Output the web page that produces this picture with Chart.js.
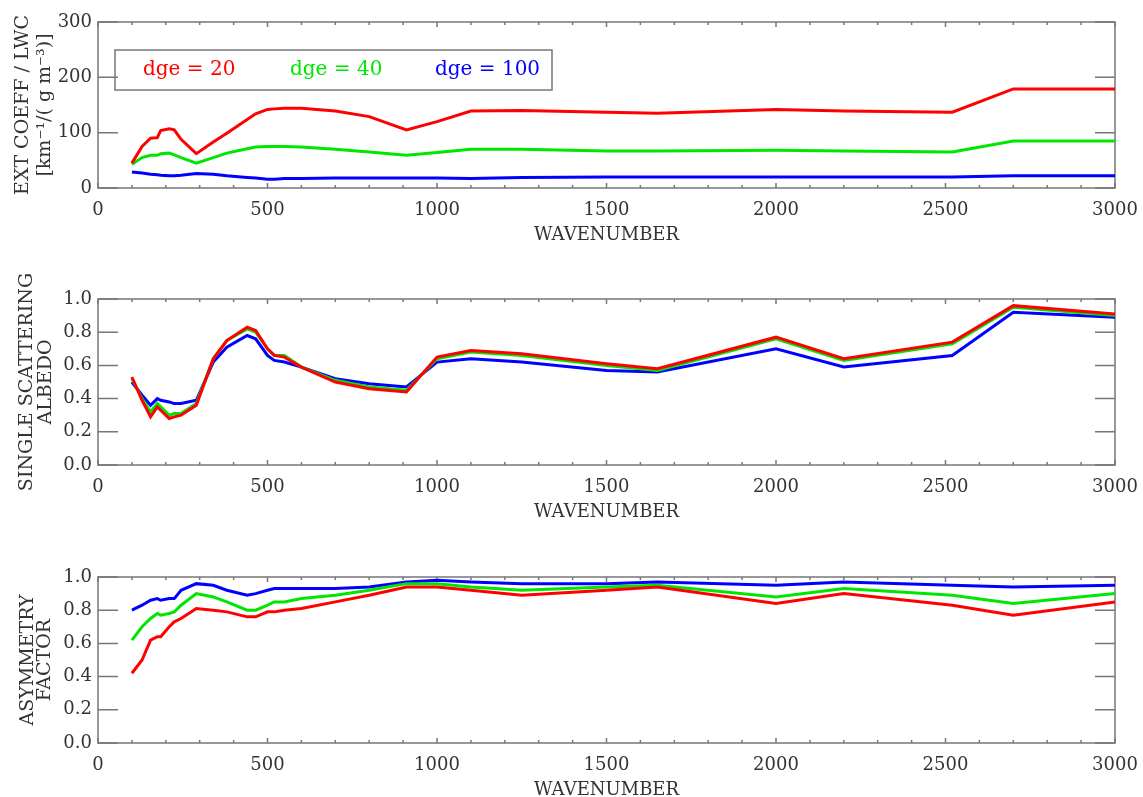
<!DOCTYPE html>
<html>
<head>
<meta charset="utf-8">
<script src="https://cdn.jsdelivr.net/npm/chart.js@4.4.1/dist/chart.umd.min.js"></script>
<style>
  html, body { margin: 0; padding: 0; background: #fff; overflow: hidden; }
  .panel { position: absolute; left: 0; width: 1143px; }
</style>
</head>
<body>
<div class="panel" style="top:0px"><canvas id="ext" width="1143" height="250"></canvas></div>
<div class="panel" style="top:262px"><canvas id="ssa" width="1143" height="265"></canvas></div>
<div class="panel" style="top:555px"><canvas id="asy" width="1143" height="250"></canvas></div>
<script>
// wavenumber grid shared by all curves
const wavenumber = [100, 130, 155, 175, 185, 210, 225, 245, 290, 340, 380, 440, 465, 500, 520, 550, 600, 700, 800, 910, 1000, 1100, 1250, 1500, 1650, 2000, 2200, 2520, 2700, 3000];

const sizes = ['dge = 20', 'dge = 40', 'dge = 100'];
const colors = ['rgb(255,0,0)', 'rgb(0,230,0)', 'rgb(0,0,255)'];

// extinction coefficient / LWC
const ext20  = [45, 75, 90, 91, 104, 107, 105, 88, 62, 83, 99, 124, 134, 142, 143, 144, 144, 139, 129, 105, 120, 139, 140, 137, 135, 142, 139, 137, 179, 179];
const ext40  = [43, 55, 59, 59, 62, 63, 60, 55, 45, 55, 63, 71, 74, 75, 75, 75, 74, 70, 65, 59, 64, 70, 70, 67, 67, 68, 67, 65, 85, 85];
const ext100 = [29, 27, 25, 24, 23, 22, 22, 23, 26, 25, 22, 19, 18, 16, 16, 17, 17, 18, 18, 18, 18, 17, 19, 20, 20, 20, 20, 20, 22, 22];

// single scattering albedo
const ssa20  = [0.53, 0.39, 0.29, 0.35, 0.33, 0.28, 0.29, 0.30, 0.36, 0.64, 0.75, 0.83, 0.81, 0.70, 0.66, 0.65, 0.59, 0.50, 0.46, 0.44, 0.65, 0.69, 0.67, 0.61, 0.58, 0.77, 0.64, 0.74, 0.96, 0.91];
const ssa40  = [0.52, 0.40, 0.32, 0.37, 0.35, 0.30, 0.31, 0.31, 0.37, 0.64, 0.75, 0.82, 0.80, 0.70, 0.66, 0.66, 0.59, 0.51, 0.47, 0.45, 0.64, 0.68, 0.66, 0.60, 0.57, 0.76, 0.63, 0.73, 0.95, 0.90];
const ssa100 = [0.50, 0.42, 0.36, 0.40, 0.39, 0.38, 0.37, 0.37, 0.39, 0.62, 0.71, 0.78, 0.76, 0.66, 0.63, 0.62, 0.59, 0.52, 0.49, 0.47, 0.62, 0.64, 0.62, 0.57, 0.56, 0.70, 0.59, 0.66, 0.92, 0.89];

// asymmetry factor
const asy20  = [0.42, 0.50, 0.62, 0.64, 0.64, 0.70, 0.73, 0.75, 0.81, 0.80, 0.79, 0.76, 0.76, 0.79, 0.79, 0.80, 0.81, 0.85, 0.89, 0.94, 0.94, 0.92, 0.89, 0.92, 0.94, 0.84, 0.90, 0.83, 0.77, 0.85];
const asy40  = [0.62, 0.70, 0.75, 0.78, 0.77, 0.78, 0.79, 0.83, 0.90, 0.88, 0.85, 0.80, 0.80, 0.83, 0.85, 0.85, 0.87, 0.89, 0.92, 0.96, 0.96, 0.94, 0.92, 0.94, 0.95, 0.88, 0.93, 0.89, 0.84, 0.90];
const asy100 = [0.80, 0.83, 0.86, 0.87, 0.86, 0.87, 0.87, 0.92, 0.96, 0.95, 0.92, 0.89, 0.90, 0.92, 0.93, 0.93, 0.93, 0.93, 0.94, 0.97, 0.98, 0.97, 0.96, 0.96, 0.97, 0.95, 0.97, 0.95, 0.94, 0.95];

Chart.defaults.font.family = 'DejaVu Serif';
Chart.defaults.font.size = 18;
Chart.defaults.color = '#333';

// IDL style box with inward ticks
const frameTicks = {
  id: 'frameTicks',
  beforeDatasetsDraw(chart) {
    const { ctx, chartArea: a, scales: { x, y } } = chart;
    ctx.save();
    ctx.strokeStyle = '#777';
    ctx.lineWidth = 1.5;
    ctx.strokeRect(a.left, a.top, a.right - a.left, a.bottom - a.top);
    ctx.beginPath();
    for (let v = x.min; v <= x.max; v += 100) {
      const px = x.getPixelForValue(v);
      const len = v % 500 === 0 ? 5 : 3;
      ctx.moveTo(px, a.bottom); ctx.lineTo(px, a.bottom - len);
      ctx.moveTo(px, a.top); ctx.lineTo(px, a.top + len);
    }
    y.ticks.forEach(t => {
      const py = y.getPixelForValue(t.value);
      ctx.moveTo(a.left, py); ctx.lineTo(a.left + 20, py);
      ctx.moveTo(a.right, py); ctx.lineTo(a.right - 20, py);
    });
    ctx.stroke();
    ctx.restore();
  }
};

// boxed legend inside the top panel
const boxLegend = {
  id: 'boxLegend',
  afterDraw(chart, args, opts) {
    if (!opts.show) return;
    const ctx = chart.ctx;
    ctx.save();
    ctx.strokeStyle = '#777';
    ctx.lineWidth = 1.5;
    ctx.strokeRect(opts.box[0], opts.box[1], opts.box[2], opts.box[3]);
    ctx.font = '20px "DejaVu Serif"';
    ctx.textBaseline = 'middle';
    chart.data.datasets.forEach((ds, i) => {
      ctx.fillStyle = ds.borderColor;
      ctx.fillText(ds.label, opts.xs[i], opts.box[1] + opts.box[3] / 2);
    });
    ctx.restore();
  }
};

function makeSets(series) {
  return series.map((vals, i) => ({
    label: sizes[i],
    data: wavenumber.map((w, k) => ({ x: w, y: vals[k] })),
    borderColor: colors[i],
    backgroundColor: colors[i],
    borderWidth: 3,
    pointRadius: 0,
    tension: 0,
    fill: false
  }));
}

function makeChart(id, series, yTitle, yMax, yStep, titleLine, titlePad, decimals, padTop, showLegend) {
  new Chart(document.getElementById(id), {
    type: 'line',
    data: { datasets: makeSets(series) },
    options: {
      responsive: false,
      animation: false,
      layout: { padding: { top: padTop, right: 28, left: 0, bottom: 0 } },
      plugins: {
        legend: { display: false },
        tooltip: { enabled: false },
        boxLegend: { show: showLegend, box: [115, 50, 437, 40], xs: [143, 290, 435] }
      },
      scales: {
        x: {
          type: 'linear',
          min: 0, max: 3000,
          grid: { display: false, drawTicks: false },
          border: { display: false },
          ticks: { stepSize: 500, padding: 12, maxRotation: 0, callback: v => String(v) },
          title: { display: true, text: 'WAVENUMBER', padding: { top: 0, bottom: 4 } },
          afterFit: s => { s.height = 62; s.paddingLeft = 0; s.paddingRight = 0; }
        },
        y: {
          min: 0, max: yMax,
          grid: { display: false, drawTicks: false },
          border: { display: false },
          ticks: {
            stepSize: yStep, padding: 6,
            callback: v => v.toFixed(decimals)
          },
          title: {
            display: true, text: yTitle,
            font: { size: 19, lineHeight: titleLine },
            padding: { top: titlePad, bottom: 0 }
          },
          afterFit: s => { s.width = 98; s.paddingTop = 0; s.paddingBottom = 0; }
        }
      }
    },
    plugins: [frameTicks, boxLegend]
  });
}

makeChart('ext', [ext20, ext40, ext100], ['EXT COEFF / LWC', '[km\u207B\u00B9/( g m\u207B\u00B3)]'], 300, 100, '22px', 12, 0, 22, true);
makeChart('ssa', [ssa20, ssa40, ssa100], ['SINGLE SCATTERING', 'ALBEDO'], 1, 0.2, '19px', 18, 1, 37, false);
makeChart('asy', [asy20, asy40, asy100], ['ASYMMETRY', 'FACTOR'], 1, 0.2, '17px', 20, 1, 22, false);
</script>
</body>
</html>
